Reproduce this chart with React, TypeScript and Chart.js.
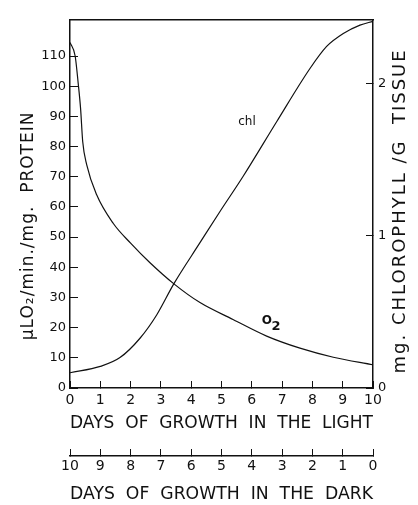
import React, { useEffect, useRef } from 'react';
import { Chart, registerables } from 'chart.js';

Chart.register(...registerables);

// ---- data ----
const o2Days = [0, 0.17, 0.27, 0.35, 0.42, 0.55, 0.88, 1.43, 2.0, 2.64, 3.43, 4.29, 5.38, 6.49, 7.59, 8.69, 10];
const o2Values = [114.5, 110, 101, 92.5, 81.6, 74, 64, 54.5, 48, 41.5, 34.5, 28.3, 22.7, 17.2, 13.2, 10.2, 7.7];

const chlDays = [0, 1, 1.65, 2.31, 2.86, 3.43, 4.29, 4.95, 5.71, 6.82, 7.92, 8.47, 9.02, 9.57, 10];
const chlValues = [0.1, 0.142, 0.2, 0.327, 0.48, 0.686, 0.955, 1.16, 1.39, 1.75, 2.1, 2.245, 2.33, 2.385, 2.41];

const lightTicks = [0, 1, 2, 3, 4, 5, 6, 7, 8, 9, 10];
const darkTicks = [0, 1, 2, 3, 4, 5, 6, 7, 8, 9, 10];
const o2Ticks = [0, 10, 20, 30, 40, 50, 60, 70, 80, 90, 100, 110];
const chlTicks = [0, 1, 2];

const LEFT_TITLE = 'µLO₂/min./mg.  PROTEIN';
const RIGHT_TITLE = 'mg. CHLOROPHYLL /G  TISSUE';
const LIGHT_TITLE = 'DAYS  OF  GROWTH  IN  THE  LIGHT';
const DARK_TITLE = 'DAYS  OF  GROWTH  IN  THE  DARK';
const CHL_LABEL = 'chl';
const O2_LABEL_MAIN = 'O';
const O2_LABEL_SUB = '2';

const INK = '#111111';
const FONT = "'DejaVu Sans', sans-serif";

const textPlugin = {
  id: 'extraText',
  afterDraw(chart: any) {
    const { ctx, chartArea: a, scales } = chart;
    const midY = (a.top + a.bottom) / 2;
    ctx.save();
    ctx.fillStyle = INK;
    ctx.textAlign = 'center';
    ctx.textBaseline = 'middle';

    ctx.save();
    ctx.translate(a.left - 41, midY + 22);
    ctx.rotate(-Math.PI / 2);
    ctx.font = `17px ${FONT}`;
    ctx.letterSpacing = '1px';
    ctx.fillText(LEFT_TITLE, 0, 0);
    ctx.restore();

    ctx.save();
    ctx.translate(a.right + 27, midY + 7);
    ctx.rotate(-Math.PI / 2);
    ctx.font = `18px ${FONT}`;
    ctx.letterSpacing = '2px';
    ctx.fillText(RIGHT_TITLE, 0, 0);
    ctx.restore();

    ctx.font = `12px ${FONT}`;
    ctx.fillText(CHL_LABEL, scales.x.getPixelForValue(5.84), scales.y2.getPixelForValue(1.75));

    const ox = scales.x.getPixelForValue(6.5);
    const oy = scales.y.getPixelForValue(22.2);
    ctx.font = `bold 12px ${FONT}`;
    ctx.fillText(O2_LABEL_MAIN, ox, oy);
    ctx.font = `bold 13px ${FONT}`;
    ctx.fillText(O2_LABEL_SUB, ox + 9, oy + 6);
    ctx.restore();
  },
};

export default function App() {
  const ref = useRef<HTMLCanvasElement | null>(null);

  useEffect(() => {
    if (!ref.current) return;
    const tickFont = { family: FONT, size: 14 };
    const yTickFont = { family: FONT, size: 13 };
    const titleFont = { family: FONT, size: 18, lineHeight: 1.2 };
    const chart = new Chart(ref.current, {
      type: 'line',
      data: {
        datasets: [
          {
            label: 'O2',
            data: o2Days.map((d, i) => ({ x: d, y: o2Values[i] })),
            xAxisID: 'x',
            yAxisID: 'y',
            borderColor: INK,
            borderWidth: 1.2,
            pointRadius: 0,
            cubicInterpolationMode: 'monotone',
            fill: false,
          },
          {
            label: 'chl',
            data: chlDays.map((d, i) => ({ x: d, y: chlValues[i] })),
            xAxisID: 'x',
            yAxisID: 'y2',
            borderColor: INK,
            borderWidth: 1.2,
            pointRadius: 0,
            cubicInterpolationMode: 'monotone',
            fill: false,
          },
        ],
      },
      options: {
        responsive: false,
        animation: false,
        layout: { padding: { top: 13, left: 0, right: 0, bottom: 0 } },
        plugins: { legend: { display: false }, tooltip: { enabled: false } },
        scales: {
          x: {
            type: 'linear',
            position: 'bottom',
            min: 0,
            max: 10,
            afterBuildTicks: (s: any) => { s.ticks = lightTicks.map((v) => ({ value: v })); },
            afterFit: (s: any) => { s.height = 68; },
            grid: { drawOnChartArea: false, drawTicks: true, tickLength: -7, color: INK, lineWidth: 1 },
            border: { display: true, color: INK, width: 1.5 },
            ticks: { color: INK, font: tickFont, padding: 11, maxRotation: 0, autoSkip: false },
            title: { display: true, text: LIGHT_TITLE, color: INK, font: titleFont, padding: { top: 0, bottom: 22 } },
          },
          x2: {
            type: 'linear',
            position: 'bottom',
            min: 0,
            max: 10,
            reverse: true,
            afterBuildTicks: (s: any) => { s.ticks = darkTicks.map((v) => ({ value: v })); },
            afterFit: (s: any) => { s.height = 49; },
            grid: { drawOnChartArea: false, drawTicks: true, tickLength: -7, color: INK, lineWidth: 1 },
            border: { display: true, color: INK, width: 1.5 },
            ticks: { color: INK, font: tickFont, padding: 9, maxRotation: 0, autoSkip: false },
            title: { display: true, text: DARK_TITLE, color: INK, font: titleFont, padding: { top: 0, bottom: 0 } },
          },
          xTop: {
            type: 'linear',
            position: 'top',
            min: 0,
            max: 10,
            afterFit: (s: any) => { s.height = 0; },
            grid: { drawOnChartArea: false, drawTicks: false, color: INK },
            border: { display: true, color: INK, width: 1.5 },
            ticks: { display: false },
          },
          y: {
            type: 'linear',
            position: 'left',
            min: 0,
            max: 122,
            afterBuildTicks: (s: any) => { s.ticks = o2Ticks.map((v) => ({ value: v })); },
            afterFit: (s: any) => { s.width = 70; },
            grid: { drawOnChartArea: false, drawTicks: true, tickLength: -8, color: INK, lineWidth: 1 },
            border: { display: true, color: INK, width: 1.5 },
            ticks: { color: INK, font: yTickFont, padding: 12 },
          },
          y2: {
            type: 'linear',
            position: 'right',
            min: 0,
            max: 2.42,
            afterBuildTicks: (s: any) => { s.ticks = chlTicks.map((v) => ({ value: v })); },
            afterFit: (s: any) => { s.width = 45; },
            grid: { drawOnChartArea: false, drawTicks: true, tickLength: -7, color: INK, lineWidth: 1 },
            border: { display: true, color: INK, width: 1.5 },
            ticks: { color: INK, font: yTickFont, padding: 12 },
          },
        },
      } as any,
      plugins: [textPlugin],
    });
    return () => chart.destroy();
  }, []);

  return (
    <div style={{ position: 'absolute', left: 0, top: 0, width: 418, height: 505, background: '#fff' }}>
      <canvas ref={ref} width={418} height={505} style={{ display: 'block' }} />
    </div>
  );
}
